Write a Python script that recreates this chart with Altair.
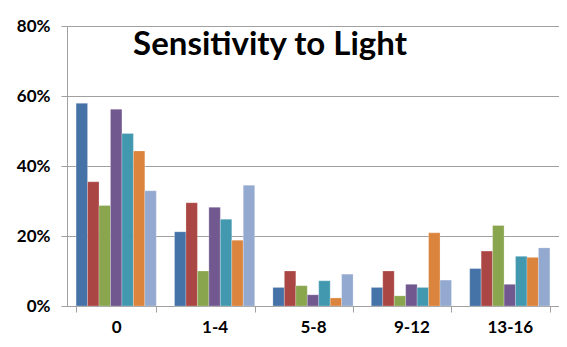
import altair as alt
import pandas as pd

title_text = "Sensitivity to Light"
categories = ["0", "1-4", "5-8", "9-12", "13-16"]
series_names = ["S1", "S2", "S3", "S4", "S5", "S6", "S7"]
colors = ["#4572A7", "#AA4643", "#89A54E", "#71588F", "#4198AF", "#DB843D", "#93A9CF"]

s1 = [0.579, 0.212, 0.053, 0.053, 0.107]
s2 = [0.355, 0.295, 0.100, 0.100, 0.157]
s3 = [0.287, 0.100, 0.058, 0.029, 0.230]
s4 = [0.562, 0.282, 0.032, 0.062, 0.062]
s5 = [0.493, 0.248, 0.072, 0.053, 0.142]
s6 = [0.443, 0.188, 0.023, 0.209, 0.139]
s7 = [0.329, 0.345, 0.091, 0.074, 0.166]
all_series = [s1, s2, s3, s4, s5, s6, s7]

rows = []
for name, vals in zip(series_names, all_series):
    for c, v in zip(categories, vals):
        rows.append({"cat": c, "series": name, "value": v})
df = pd.DataFrame(rows)

FONT = "Lato"

bars = alt.Chart(df).mark_bar(stroke="white", strokeWidth=0.4, strokeOpacity=0.6).encode(
    x=alt.X("cat:N", sort=categories, title=None,
            scale=alt.Scale(paddingInner=0.185, paddingOuter=0.0925),
            axis=alt.Axis(labelAngle=0, tickBand="extent", tickSize=6, tickColor="#A0A0A0",
                          domainColor="#A0A0A0", labelFont=FONT, labelFontSize=17,
                          labelFontWeight="bold", labelColor="#000000", labelPadding=7,
                          grid=False)),
    xOffset=alt.XOffset("series:N", sort=series_names),
    y=alt.Y("value:Q", title=None,
            scale=alt.Scale(domain=[0, 0.8], nice=False),
            axis=alt.Axis(values=[0, 0.2, 0.4, 0.6, 0.8], format=".0%", tickSize=6,
                          tickColor="#A0A0A0", domainColor="#A0A0A0", gridColor="#A0A0A0",
                          labelFont=FONT, labelFontSize=17, labelFontWeight="bold",
                          labelColor="#000000", labelPadding=11)),
    color=alt.Color("series:N", sort=series_names,
                    scale=alt.Scale(domain=series_names, range=colors), legend=None),
)

title_mark = alt.Chart(pd.DataFrame({"t": [title_text]})).mark_text(
    font=FONT, fontSize=33, fontWeight="bold", color="#000000",
    align="center", baseline="alphabetic"
).encode(text="t:N", x=alt.value(203), y=alt.value(29))

chart = alt.layer(bars, title_mark).properties(
    width=492, height=280,
    autosize=alt.AutoSizeParams(type="none"),
    padding={"left": 59, "top": 18, "right": 0, "bottom": 33},
    background="white",
).configure_view(stroke=None)

chart.save("out.html", embed_options={"renderer": "svg", "actions": False})
